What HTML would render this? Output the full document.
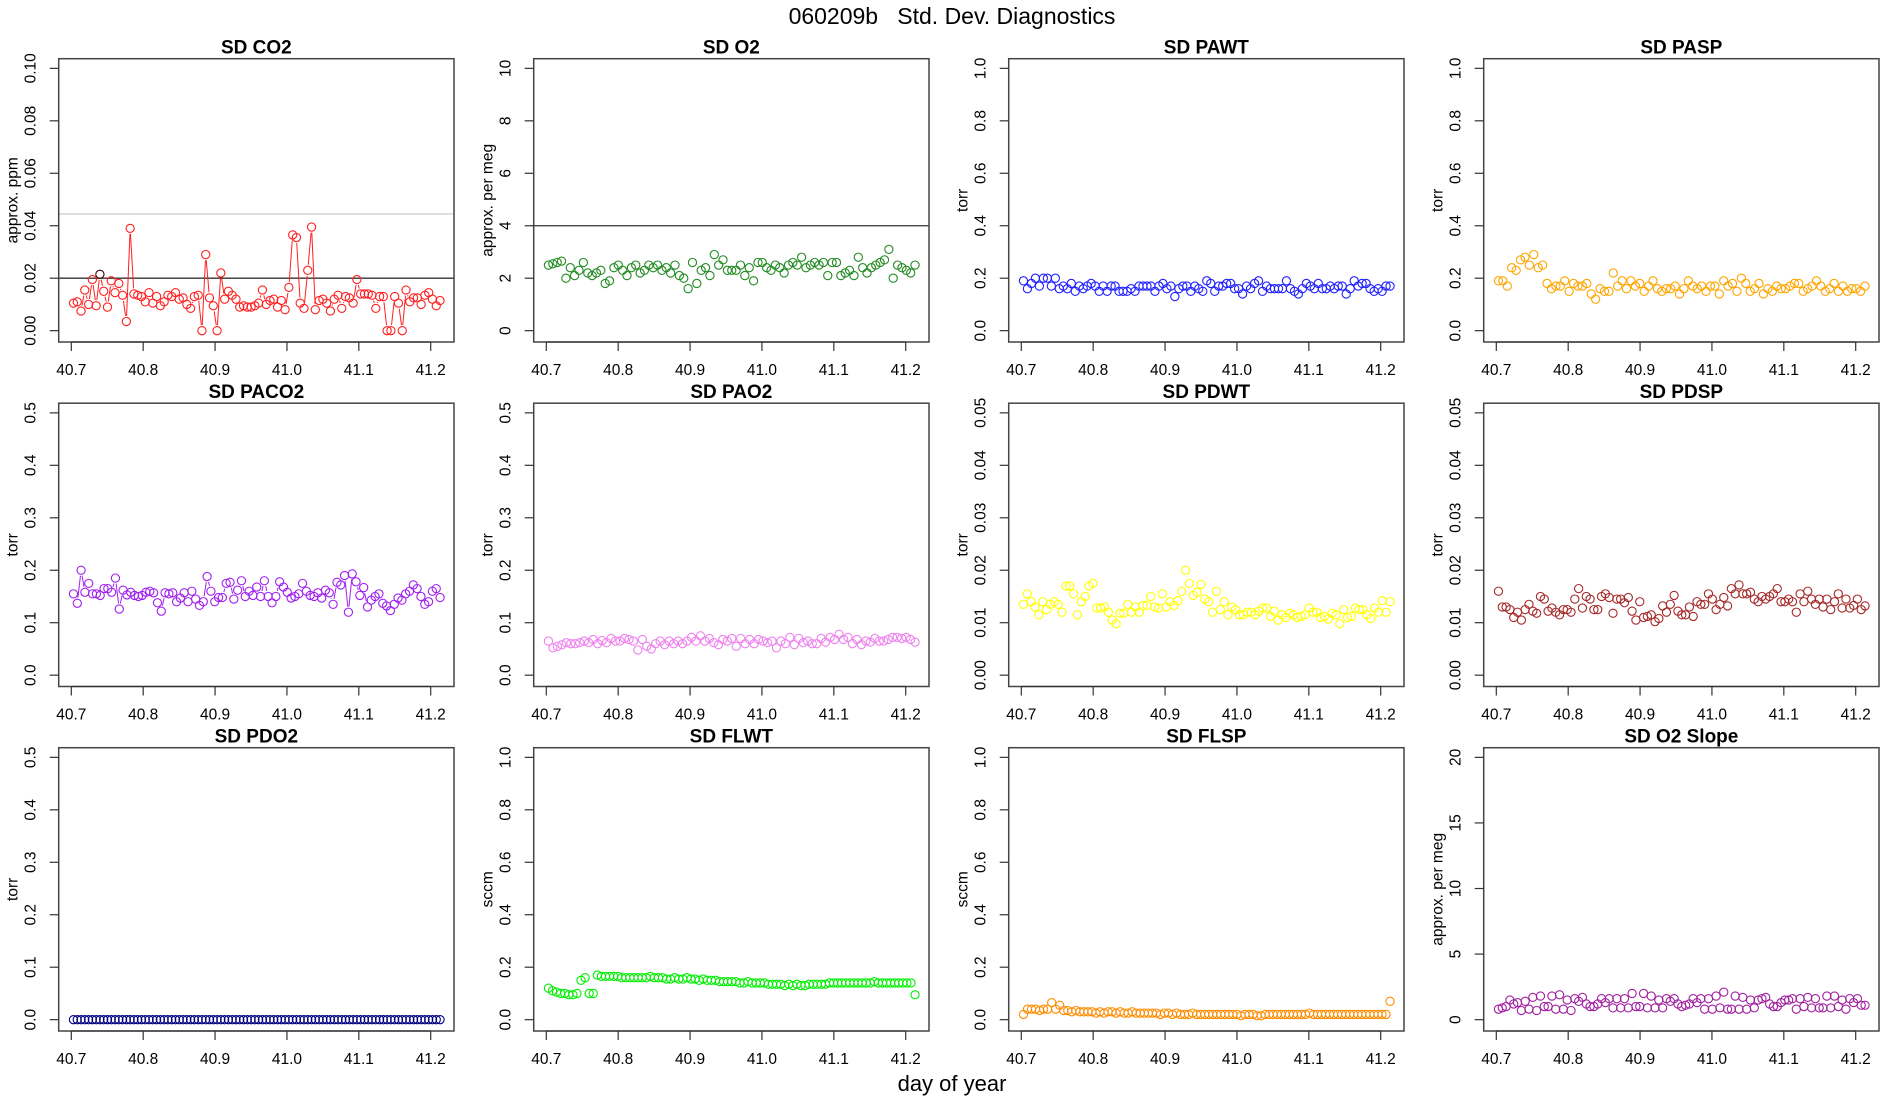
<!DOCTYPE html>
<html><head><meta charset="utf-8"><title>060209b Std. Dev. Diagnostics</title>
<style>
html,body{margin:0;padding:0;background:#fff;}
svg{display:block;font-family:"Liberation Sans",sans-serif;}
</style></head>
<body>
<svg id="fig" width="1900" height="1100" viewBox="0 0 1900 1100">
<rect width="1900" height="1100" fill="#fff"/>
<text x="952" y="24" font-size="23" text-anchor="middle" style="white-space:pre" xml:space="preserve">060209b   Std. Dev. Diagnostics</text>
<text x="952" y="1091" font-size="22" text-anchor="middle">day of year</text>
</svg>
<script>
const xTicks = [40.7, 40.8, 40.9, 41.0, 41.1, 41.2];
const xTickLabels = ["40.7","40.8","40.9","41.0","41.1","41.2"];
const dayStart = 40.703;
const dayEnd = 41.213;
const sdCO2 = [0.0105,0.011,0.0075,0.0155,0.010,0.0195,0.0095,0.0215,0.015,0.009,0.019,0.0145,0.018,0.0135,0.0035,0.039,0.014,0.0135,0.013,0.011,0.0145,0.0105,0.013,0.0095,0.011,0.0135,0.013,0.0145,0.012,0.0125,0.010,0.0085,0.013,0.0135,0.000,0.029,0.0125,0.0095,0.000,0.022,0.012,0.015,0.0135,0.012,0.009,0.0095,0.009,0.009,0.0095,0.0105,0.0155,0.010,0.0115,0.012,0.009,0.0115,0.008,0.0165,0.0365,0.0355,0.0105,0.0085,0.023,0.0395,0.008,0.0115,0.012,0.0105,0.0075,0.012,0.0135,0.0085,0.013,0.0125,0.0105,0.0195,0.014,0.014,0.014,0.0135,0.0085,0.013,0.013,0.000,0.000,0.013,0.0105,0.000,0.0155,0.011,0.0125,0.0125,0.010,0.0135,0.0145,0.012,0.0095,0.0115];
const sdO2 = [2.5,2.55,2.6,2.65,2.0,2.4,2.1,2.3,2.6,2.2,2.1,2.2,2.3,1.8,1.9,2.4,2.5,2.3,2.1,2.4,2.5,2.2,2.3,2.5,2.4,2.5,2.3,2.4,2.2,2.5,2.1,2.0,1.6,2.6,1.8,2.3,2.4,2.1,2.9,2.5,2.7,2.3,2.3,2.3,2.5,2.1,2.4,1.9,2.6,2.6,2.4,2.3,2.5,2.4,2.2,2.5,2.6,2.5,2.8,2.4,2.5,2.6,2.5,2.6,2.1,2.6,2.6,2.1,2.2,2.3,2.1,2.8,2.4,2.2,2.4,2.5,2.6,2.7,3.1,2.0,2.5,2.4,2.3,2.2,2.5];
const sdPAWT = [0.19,0.16,0.18,0.20,0.17,0.20,0.20,0.17,0.20,0.16,0.17,0.16,0.18,0.15,0.17,0.16,0.17,0.18,0.17,0.15,0.17,0.15,0.17,0.17,0.15,0.15,0.15,0.16,0.15,0.17,0.17,0.17,0.17,0.15,0.17,0.18,0.16,0.17,0.13,0.16,0.17,0.17,0.15,0.17,0.16,0.15,0.19,0.18,0.15,0.17,0.17,0.18,0.18,0.16,0.16,0.14,0.17,0.16,0.18,0.19,0.15,0.17,0.16,0.16,0.16,0.16,0.19,0.16,0.15,0.14,0.16,0.18,0.17,0.16,0.18,0.16,0.16,0.17,0.16,0.17,0.17,0.14,0.16,0.19,0.17,0.18,0.18,0.16,0.15,0.16,0.15,0.17,0.17];
const sdPASP = [0.19,0.19,0.17,0.24,0.23,0.27,0.28,0.25,0.29,0.24,0.25,0.18,0.16,0.17,0.17,0.19,0.15,0.18,0.17,0.17,0.18,0.14,0.12,0.16,0.15,0.15,0.22,0.17,0.19,0.16,0.19,0.17,0.18,0.15,0.17,0.19,0.16,0.15,0.16,0.16,0.17,0.14,0.16,0.19,0.17,0.16,0.17,0.15,0.17,0.17,0.14,0.19,0.17,0.18,0.15,0.20,0.18,0.15,0.16,0.18,0.14,0.16,0.15,0.17,0.16,0.16,0.17,0.18,0.18,0.15,0.16,0.17,0.19,0.17,0.15,0.16,0.18,0.15,0.17,0.15,0.16,0.16,0.15,0.17];
const sdPACO2 = [0.155,0.137,0.200,0.158,0.175,0.155,0.155,0.152,0.165,0.165,0.158,0.185,0.126,0.162,0.153,0.158,0.152,0.150,0.152,0.158,0.160,0.157,0.138,0.122,0.157,0.155,0.157,0.140,0.147,0.157,0.140,0.160,0.145,0.133,0.140,0.188,0.160,0.140,0.148,0.148,0.175,0.177,0.145,0.162,0.180,0.150,0.160,0.152,0.168,0.150,0.180,0.150,0.138,0.150,0.178,0.168,0.158,0.147,0.150,0.155,0.175,0.160,0.152,0.150,0.157,0.147,0.162,0.157,0.135,0.177,0.172,0.190,0.120,0.193,0.178,0.152,0.167,0.130,0.143,0.150,0.155,0.137,0.132,0.123,0.135,0.147,0.143,0.155,0.160,0.172,0.165,0.150,0.135,0.140,0.160,0.165,0.148];
const sdPAO2 = [0.065,0.052,0.055,0.058,0.062,0.060,0.060,0.062,0.065,0.062,0.068,0.060,0.066,0.062,0.070,0.065,0.065,0.070,0.068,0.065,0.048,0.068,0.055,0.050,0.060,0.065,0.058,0.065,0.060,0.065,0.060,0.065,0.072,0.065,0.075,0.065,0.070,0.062,0.058,0.068,0.065,0.070,0.055,0.070,0.060,0.068,0.060,0.068,0.065,0.062,0.065,0.052,0.065,0.060,0.072,0.058,0.070,0.062,0.065,0.060,0.060,0.070,0.063,0.072,0.068,0.078,0.068,0.072,0.060,0.068,0.058,0.065,0.063,0.070,0.065,0.065,0.068,0.072,0.072,0.070,0.072,0.068,0.063];
const sdPDWT = [0.0135,0.0155,0.014,0.013,0.0115,0.014,0.0125,0.0135,0.014,0.0135,0.012,0.017,0.017,0.0155,0.0115,0.014,0.015,0.017,0.0175,0.0128,0.0128,0.013,0.012,0.0105,0.0098,0.0118,0.0118,0.0135,0.012,0.013,0.012,0.0133,0.0133,0.015,0.013,0.0128,0.0155,0.013,0.014,0.0133,0.0142,0.016,0.020,0.0175,0.0152,0.0158,0.0173,0.0145,0.014,0.012,0.016,0.0125,0.014,0.0115,0.013,0.0125,0.0115,0.0115,0.012,0.012,0.0115,0.0122,0.0128,0.0128,0.0112,0.0122,0.0105,0.0115,0.011,0.0118,0.0115,0.011,0.0112,0.0115,0.0128,0.012,0.012,0.011,0.0112,0.0107,0.0118,0.0115,0.0098,0.0125,0.011,0.0112,0.0128,0.0125,0.0125,0.0115,0.0108,0.0128,0.012,0.0142,0.012,0.014];
const sdPDSP = [0.016,0.013,0.013,0.0125,0.011,0.012,0.0105,0.0125,0.0135,0.0122,0.0118,0.015,0.0145,0.0122,0.0128,0.012,0.0115,0.0125,0.0125,0.012,0.0145,0.0165,0.0128,0.015,0.0145,0.0125,0.0125,0.015,0.0155,0.0148,0.0118,0.0145,0.0145,0.0138,0.0148,0.0122,0.0105,0.014,0.011,0.0112,0.0115,0.0102,0.0108,0.0132,0.012,0.0135,0.0152,0.0122,0.0115,0.0115,0.013,0.0112,0.014,0.0135,0.0135,0.0155,0.0145,0.0125,0.0135,0.0148,0.0132,0.0165,0.0155,0.0172,0.0155,0.0155,0.0158,0.0145,0.014,0.015,0.0145,0.015,0.0155,0.0165,0.014,0.014,0.0145,0.014,0.012,0.0155,0.014,0.016,0.0145,0.0135,0.0145,0.013,0.0145,0.0125,0.014,0.0155,0.0128,0.0145,0.0128,0.0133,0.0145,0.0125,0.0132];
const sdPDO2 = [0,0,0,0,0,0,0,0,0,0,0,0,0,0,0,0,0,0,0,0,0,0,0,0,0,0,0,0,0,0,0,0,0,0,0,0,0,0,0,0,0,0,0,0,0,0,0,0,0,0,0,0,0,0,0,0,0,0,0,0,0,0,0,0,0,0,0,0,0,0,0,0,0,0,0,0,0,0,0,0,0,0,0,0,0,0,0,0,0,0,0,0,0,0,0,0,0,0];
const sdFLWT = [0.12,0.11,0.105,0.10,0.10,0.095,0.095,0.10,0.15,0.16,0.10,0.10,0.17,0.165,0.165,0.165,0.165,0.165,0.16,0.16,0.16,0.16,0.16,0.16,0.16,0.165,0.16,0.16,0.16,0.155,0.155,0.16,0.155,0.155,0.16,0.155,0.155,0.15,0.155,0.15,0.15,0.15,0.145,0.145,0.145,0.145,0.145,0.14,0.14,0.145,0.14,0.14,0.14,0.14,0.135,0.135,0.135,0.135,0.13,0.135,0.13,0.135,0.13,0.13,0.135,0.135,0.135,0.135,0.135,0.14,0.14,0.14,0.14,0.14,0.14,0.14,0.14,0.14,0.14,0.14,0.145,0.14,0.14,0.14,0.14,0.14,0.14,0.14,0.14,0.14,0.095];
const sdFLSP = [0.02,0.04,0.04,0.04,0.035,0.04,0.04,0.065,0.04,0.055,0.035,0.035,0.03,0.035,0.03,0.03,0.03,0.03,0.025,0.03,0.025,0.03,0.03,0.025,0.03,0.025,0.025,0.03,0.025,0.025,0.025,0.025,0.025,0.025,0.02,0.025,0.025,0.02,0.025,0.02,0.02,0.02,0.025,0.02,0.02,0.02,0.02,0.02,0.02,0.02,0.02,0.02,0.02,0.02,0.015,0.02,0.02,0.02,0.015,0.015,0.02,0.02,0.02,0.02,0.02,0.02,0.02,0.02,0.02,0.02,0.02,0.025,0.02,0.02,0.02,0.02,0.02,0.02,0.02,0.02,0.02,0.02,0.02,0.02,0.02,0.02,0.02,0.02,0.02,0.02,0.02,0.07];
const sdO2Slope = [0.8,0.9,1.0,1.5,1.2,1.3,0.7,1.4,0.8,1.7,0.7,1.8,1.0,1.0,1.8,0.8,1.9,0.8,1.5,0.7,1.6,1.4,1.7,1.2,1.0,1.0,1.2,1.6,1.3,1.6,0.9,1.6,0.9,1.6,0.9,2.0,1.0,1.0,2.0,0.9,1.8,0.9,1.5,0.9,1.6,1.4,1.6,1.2,1.0,1.1,1.2,1.6,1.3,1.6,0.8,1.6,0.8,1.8,0.9,2.1,0.8,0.8,1.8,0.8,1.7,0.8,1.5,0.9,1.5,1.6,1.7,1.2,1.0,1.0,1.3,1.5,1.5,1.6,0.8,1.6,1.0,1.7,0.9,1.6,0.9,0.9,1.8,0.9,1.8,1.0,1.5,0.8,1.6,1.3,1.6,1.1,1.1];

const panels = [
 {t:"SD CO2", y:"approx. ppm", d:sdCO2, max:0.10, step:0.02, dec:2, c:"#ff2020", line:true, h:[[0.02,"#333"],[0.0445,"#d0d0d0"]]},
 {t:"SD O2", y:"approx. per meg", d:sdO2, max:10, step:2, dec:0, c:"#228b22", h:[[4,"#333"]]},
 {t:"SD PAWT", y:"torr", d:sdPAWT, max:1.0, step:0.2, dec:1, c:"#2020ff"},
 {t:"SD PASP", y:"torr", d:sdPASP, max:1.0, step:0.2, dec:1, c:"#ffa500"},
 {t:"SD PACO2", y:"torr", d:sdPACO2, max:0.5, step:0.1, dec:1, c:"#a020f0", line:true},
 {t:"SD PAO2", y:"torr", d:sdPAO2, max:0.5, step:0.1, dec:1, c:"#ee82ee"},
 {t:"SD PDWT", y:"torr", d:sdPDWT, max:0.05, step:0.01, dec:2, c:"#ffff00"},
 {t:"SD PDSP", y:"torr", d:sdPDSP, max:0.05, step:0.01, dec:2, c:"#a52a2a"},
 {t:"SD PDO2", y:"torr", d:sdPDO2, max:0.5, step:0.1, dec:1, c:"#000080"},
 {t:"SD FLWT", y:"sccm", d:sdFLWT, max:1.0, step:0.2, dec:1, c:"#00ee00"},
 {t:"SD FLSP", y:"sccm", d:sdFLSP, max:1.0, step:0.2, dec:1, c:"#ff8c00"},
 {t:"SD O2 Slope", y:"approx. per meg", d:sdO2Slope, max:20, step:5, dec:0, c:"#a020a0"}
];

const NS = "http://www.w3.org/2000/svg";
const svg = document.getElementById("fig");
function mk(tag, attrs, parent){ const e=document.createElementNS(NS,tag); for(const k in attrs) e.setAttribute(k,attrs[k]); parent.appendChild(e); return e; }

const BW=395.3, BH=283.3, X0=58.7, Y0=58.7, DX=475, DY=344.5, RAD=4.1;
panels.forEach((p,i)=>{
  const col=i%4,row=Math.floor(i/4);
  const L=X0+col*DX, T=Y0+row*DY, R=L+BW, B=T+BH;
  const g=mk("g",{},svg);
  
  
  const sx=v=>L+12.6+(v-40.7)*(359.4/0.5);
  const yspan=BH/1.08;
  const sy=v=>B-BH*0.04-(v/p.max)*yspan;
  (p.h||[]).forEach(h=>{
    const ln=mk("line",{x1:L,x2:R,y1:sy(h[0]),y2:sy(h[0]),stroke:h[1],"stroke-width":1.3},g);
    
    
  });
  const n=p.d.length;
  const xs=p.d.map((v,k)=>dayStart+(dayEnd-dayStart)*k/(n-1));
  if(p.line){
    for(let k=0;k<n-1;k++){
      const x1=sx(xs[k]),y1=sy(p.d[k]),x2=sx(xs[k+1]),y2=sy(p.d[k+1]);
      const dx=x2-x1,dy=y2-y1,len=Math.hypot(dx,dy),gap=RAD+1.5;
      if(len<=2*gap) continue;
      const ux=dx/len,uy=dy/len;
      const seg=mk("line",{x1:x1+ux*gap,y1:y1+uy*gap,x2:x2-ux*gap,y2:y2-uy*gap,stroke:p.c,"stroke-width":1},g);
      
      
    }
  }
  p.d.forEach((v,k)=>{
    const c=mk("circle",{cx:sx(xs[k]),cy:sy(v),r:RAD,fill:"none",stroke:(i===0&&k===7)?"#400000":p.c,"stroke-width":1.1},g);
    
    
  });
  const box=mk("rect",{x:L,y:T,width:BW,height:BH,fill:"none",stroke:"#444","stroke-width":1.5},g);
  
  
  const tt=mk("text",{x:(L+R)/2,y:T-5,"font-size":19,"font-weight":"bold","text-anchor":"middle"},g);
  tt.textContent=p.t;
  
  
  xTicks.forEach((v,k)=>{
    const tk=mk("line",{x1:sx(v),x2:sx(v),y1:B,y2:B+9,stroke:"#333","stroke-width":1.2},g);
    
    
    const lb=mk("text",{x:sx(v),y:B+33,"font-size":15.5,"text-anchor":"middle"},g);
    lb.textContent=xTickLabels[k];
    
    
  });
  const xl=mk("line",{x1:sx(40.7),x2:sx(41.2),y1:B,y2:B,stroke:"#333","stroke-width":1.2},g);
  
  
  const nt=Math.round(p.max/p.step);
  for(let k=0;k<=nt;k++){
    const v=k*p.step, yy=sy(v);
    const tk=mk("line",{x1:L-9,x2:L,y1:yy,y2:yy,stroke:"#333","stroke-width":1.2},g);
    
    
    const lb=mk("text",{x:0,y:0,"font-size":15.5,"text-anchor":"middle",transform:`translate(${L-23},${yy}) rotate(-90)`},g);
    lb.textContent=v.toFixed(p.dec);
    
    
  }
  const yl=mk("text",{x:0,y:0,"font-size":15.5,"text-anchor":"middle",transform:`translate(${L-41},${(T+B)/2}) rotate(-90)`},g);
  yl.textContent=p.y;
  
  
});
</script>
</body></html>
